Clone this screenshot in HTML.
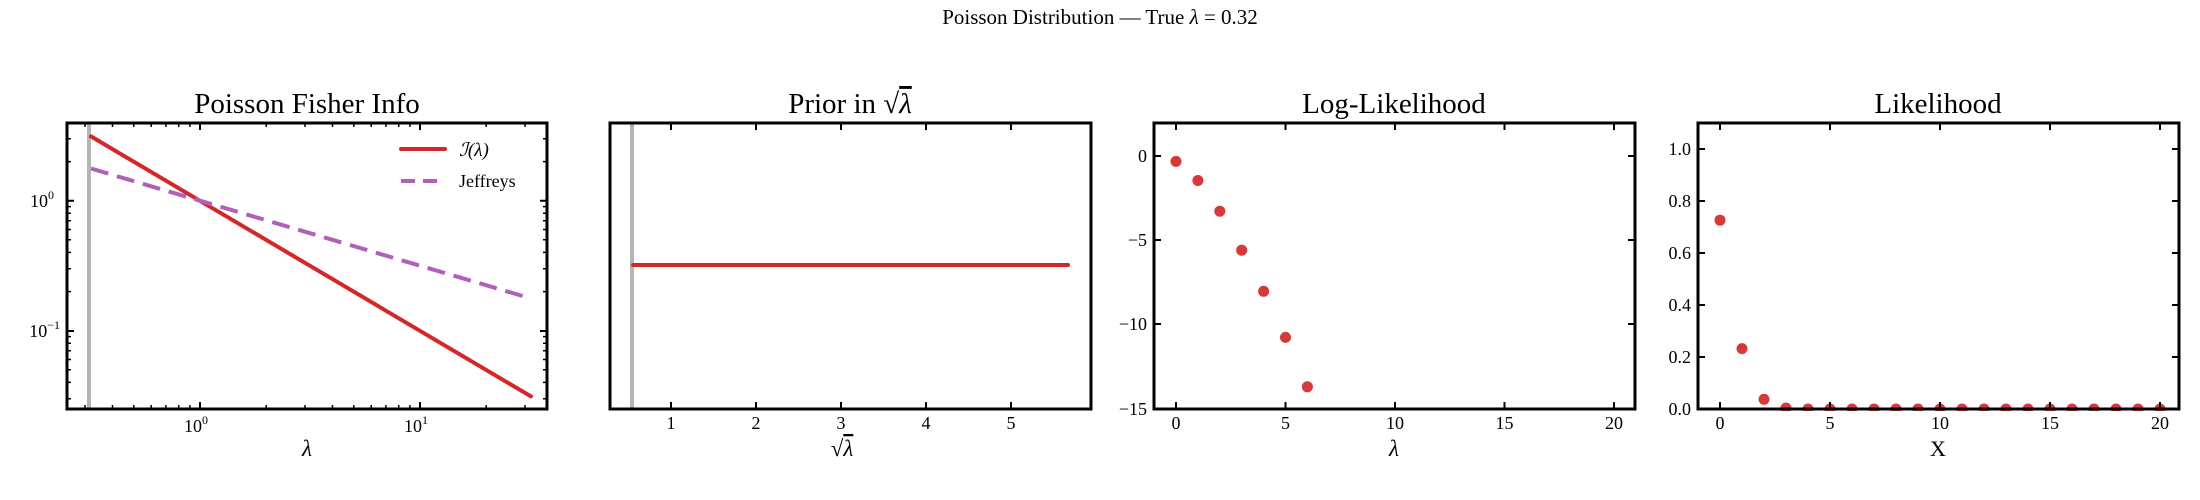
<!DOCTYPE html>
<html><head><meta charset="utf-8"><style>
html,body{margin:0;padding:0;background:#fff;}
svg{display:block;font-family:"Liberation Serif","DejaVu Serif",serif;}
</style></head><body>
<svg width="2200" height="500" viewBox="0 0 2200 500" xmlns="http://www.w3.org/2000/svg">
<text x="1100" y="24" font-size="21" text-anchor="middle">Poisson Distribution — True <tspan font-style="italic">λ</tspan> = 0.32</text>

<!-- Panel 1 -->
<text x="307" y="113" font-size="29" text-anchor="middle">Poisson Fisher Info</text>
<line x1="89" y1="123" x2="89" y2="409" stroke="#b5b5b5" stroke-width="4"/>
<line x1="91" y1="136.4" x2="531" y2="396.4" stroke="#d62728" stroke-width="4" stroke-linecap="round"/>
<line x1="91" y1="168.5" x2="531" y2="298.5" stroke="#b060b8" stroke-width="4" stroke-dasharray="18,9"/>
<g stroke="#000" stroke-width="2">
<path d="M200 409v-7M420 409v-7M200 123v7M420 123v7M67 200.7h7M67 331h7M547 200.7h-7M547 331h-7"/>
<path stroke-width="1.5" d="M85 409v-4M112.5 409v-4M133.8 409v-4M151.2 409v-4M165.9 409v-4M178.7 409v-4M189.9 409v-4M266.2 409v-4M305 409v-4M332.5 409v-4M353.8 409v-4M371.2 409v-4M385.9 409v-4M398.7 409v-4M409.9 409v-4M486.2 409v-4M525 409v-4
M85 123v4M112.5 123v4M133.8 123v4M151.2 123v4M165.9 123v4M178.7 123v4M189.9 123v4M266.2 123v4M305 123v4M332.5 123v4M353.8 123v4M371.2 123v4M385.9 123v4M398.7 123v4M409.9 123v4M486.2 123v4M525 123v4
M67 161.6h4M67 138.7h4M67 291.6h4M67 268.7h4M67 252.4h4M67 239.8h4M67 229.5h4M67 220.8h4M67 213.3h4M67 206.6h4M67 398.7h4M67 382.4h4M67 369.8h4M67 359.5h4M67 350.8h4M67 343.3h4M67 336.6h4
M547 161.6h-4M547 138.7h-4M547 291.6h-4M547 268.7h-4M547 252.4h-4M547 239.8h-4M547 229.5h-4M547 220.8h-4M547 213.3h-4M547 206.6h-4M547 398.7h-4M547 382.4h-4M547 369.8h-4M547 359.5h-4M547 350.8h-4M547 343.3h-4M547 336.6h-4"/>
</g>
<rect x="67" y="123" width="480" height="286" fill="none" stroke="#000" stroke-width="3"/>
<line x1="401" y1="149" x2="445" y2="149" stroke="#d62728" stroke-width="4" stroke-linecap="round"/>
<line x1="401" y1="181" x2="445" y2="181" stroke="#b060b8" stroke-width="4" stroke-dasharray="14,8"/>
<text x="459" y="156" font-size="19" font-style="italic">ℐ(λ)</text>
<text x="459" y="187" font-size="18">Jeffreys</text>
<g font-size="18" text-anchor="middle">
<text x="196" y="432">10<tspan font-size="12" dy="-8">0</tspan></text>
<text x="416" y="432">10<tspan font-size="12" dy="-8">1</tspan></text>
</g>
<g font-size="18" text-anchor="end">
<text x="54" y="207">10<tspan font-size="12" dy="-8">0</tspan></text>
<text x="60" y="337">10<tspan font-size="12" dy="-8">−1</tspan></text>
</g>
<text x="307" y="456" font-size="23" font-style="italic" text-anchor="middle">λ</text>

<!-- Panel 2 -->
<text x="850" y="113" font-size="29" text-anchor="middle">Prior in √<tspan font-style="italic" text-decoration="overline">λ</tspan></text>
<line x1="632" y1="123" x2="632" y2="409" stroke="#b5b5b5" stroke-width="4"/>
<line x1="633" y1="265" x2="1068" y2="265" stroke="#d62728" stroke-width="4" stroke-linecap="round"/>
<g stroke="#000" stroke-width="2">
<path d="M671 409v-7M756 409v-7M841 409v-7M926 409v-7M1011 409v-7M671 123v7M756 123v7M841 123v7M926 123v7M1011 123v7"/>
</g>
<rect x="610" y="123" width="481" height="286" fill="none" stroke="#000" stroke-width="3"/>
<g font-size="18" text-anchor="middle">
<text x="671" y="429">1</text><text x="756" y="429">2</text><text x="841" y="429">3</text><text x="926" y="429">4</text><text x="1011" y="429">5</text>
</g>
<text x="842" y="456" font-size="23" text-anchor="middle">√<tspan font-style="italic" text-decoration="overline">λ</tspan></text>

<!-- Panel 3 -->
<text x="1394" y="113" font-size="29" text-anchor="middle">Log-Likelihood</text>
<g fill="#d62728" fill-opacity="0.92">
<circle cx="1176" cy="161.4" r="5.5"/><circle cx="1197.9" cy="180.5" r="5.5"/><circle cx="1219.8" cy="211.2" r="5.5"/><circle cx="1241.7" cy="250.2" r="5.5"/><circle cx="1263.6" cy="291.3" r="5.5"/><circle cx="1285.5" cy="337.4" r="5.5"/><circle cx="1307.4" cy="386.8" r="5.5"/>
</g>
<g stroke="#000" stroke-width="2">
<path d="M1176 409v-7M1285.5 409v-7M1395 409v-7M1504.5 409v-7M1614 409v-7M1176 123v7M1285.5 123v7M1395 123v7M1504.5 123v7M1614 123v7
M1154 156h7M1154 240h7M1154 324h7M1635 156h-7M1635 240h-7M1635 324h-7"/>
</g>
<rect x="1154" y="123" width="481" height="286" fill="none" stroke="#000" stroke-width="3"/>
<g font-size="18" text-anchor="middle">
<text x="1176" y="429">0</text><text x="1285.5" y="429">5</text><text x="1395" y="429">10</text><text x="1504.5" y="429">15</text><text x="1614" y="429">20</text>
</g>
<g font-size="18" text-anchor="end">
<text x="1147" y="162">0</text><text x="1147" y="246">−5</text><text x="1147" y="330">−10</text><text x="1147" y="415">−15</text>
</g>
<text x="1394" y="456" font-size="23" font-style="italic" text-anchor="middle">λ</text>

<!-- Panel 4 -->
<text x="1938" y="113" font-size="29" text-anchor="middle">Likelihood</text>
<g fill="#d62728" fill-opacity="0.92">
<circle cx="1720" cy="220.2" r="5.5"/><circle cx="1742" cy="348.6" r="5.5"/><circle cx="1764" cy="399.3" r="5.5"/><circle cx="1786" cy="408" r="5.5"/><circle cx="1808" cy="409" r="5.5"/><circle cx="1830" cy="409" r="5.5"/><circle cx="1852" cy="409" r="5.5"/><circle cx="1874" cy="409" r="5.5"/><circle cx="1896" cy="409" r="5.5"/><circle cx="1918" cy="409" r="5.5"/><circle cx="1940" cy="409" r="5.5"/><circle cx="1962" cy="409" r="5.5"/><circle cx="1984" cy="409" r="5.5"/><circle cx="2006" cy="409" r="5.5"/><circle cx="2028" cy="409" r="5.5"/><circle cx="2050" cy="409" r="5.5"/><circle cx="2072" cy="409" r="5.5"/><circle cx="2094" cy="409" r="5.5"/><circle cx="2116" cy="409" r="5.5"/><circle cx="2138" cy="409" r="5.5"/><circle cx="2160" cy="409" r="5.5"/>
</g>
<rect x="1690" y="411" width="500" height="10" fill="#fff"/>
<g stroke="#000" stroke-width="2">
<path d="M1720 409v-7M1830 409v-7M1940 409v-7M2050 409v-7M2160 409v-7M1720 123v7M1830 123v7M1940 123v7M2050 123v7M2160 123v7
M1698 149h7M1698 201h7M1698 253h7M1698 305h7M1698 357h7M2179 149h-7M2179 201h-7M2179 253h-7M2179 305h-7M2179 357h-7"/>
</g>
<rect x="1698" y="123" width="481" height="286" fill="none" stroke="#000" stroke-width="3"/>
<g font-size="18" text-anchor="middle">
<text x="1720" y="429">0</text><text x="1830" y="429">5</text><text x="1940" y="429">10</text><text x="2050" y="429">15</text><text x="2160" y="429">20</text>
</g>
<g font-size="18" text-anchor="end">
<text x="1691" y="155">1.0</text><text x="1691" y="207">0.8</text><text x="1691" y="259">0.6</text><text x="1691" y="311">0.4</text><text x="1691" y="363">0.2</text><text x="1691" y="415">0.0</text>
</g>
<text x="1938" y="456" font-size="22" text-anchor="middle">X</text>
</svg>
</body></html>
